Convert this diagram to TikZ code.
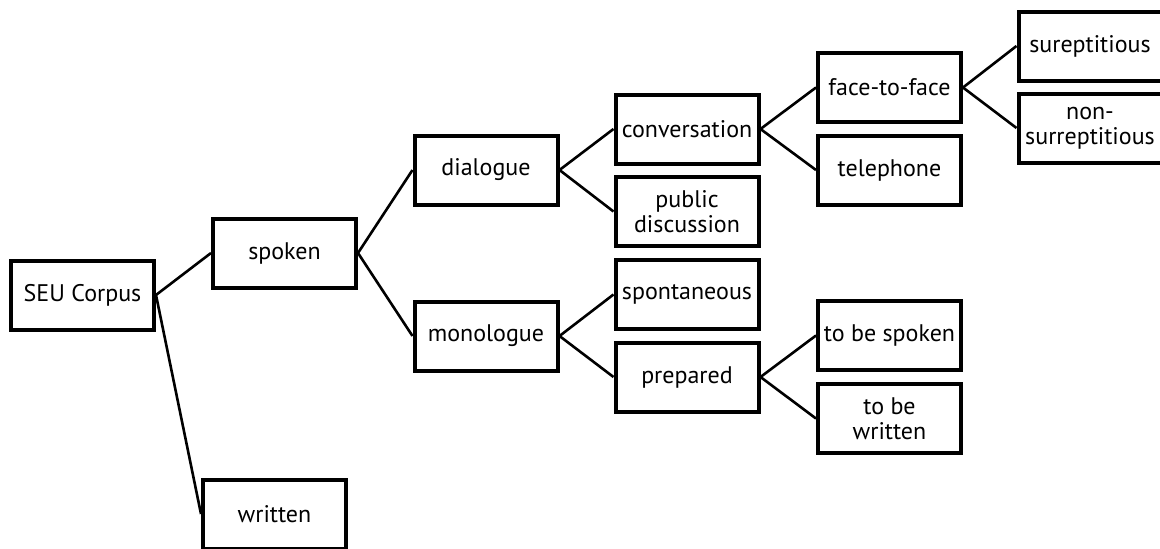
\documentclass[tikz,border=0pt]{standalone}
\usepackage{fontspec}
\setmainfont{PT Sans}
\begin{document}
\begin{tikzpicture}[x=1pt,y=-1pt,
  box/.style={draw=black, line width=4pt, fill=white, minimum width=143pt, minimum height=69pt,
    inner sep=0pt, align=center, font=\fontsize{24}{25}\selectfont},
  link/.style={draw=black, line width=2.6pt}]
\useasboundingbox (0,0) rectangle (1160,549);
\clip (0,0) rectangle (1160,549);
\node[box] (seu) at (82.5,295) {SEU Corpus};
\node[box] (spoken) at (284.5,253) {spoken};
\node[box] (written) at (274.5,514) {written};
\node[box] (dialogue) at (486,170) {dialogue};
\node[box] (monologue) at (486,336) {monologue};
\node[box] (conv) at (687,129) {conversation};
\node[box] (public) at (687,211.5) {public\\discussion};
\node[box] (spont) at (687,294.5) {spontaneous};
\node[box] (prep) at (687,377) {prepared};
\node[box] (f2f) at (889.5,87.5) {face-to-face};
\node[box] (tel) at (889.5,170) {telephone};
\node[box] (tbs) at (889.5,335.5) {to be spoken};
\node[box] (tbw) at (889.5,418.5) {to be\\written};
\node[box] (surep) at (1090,46) {sureptitious};
\node[box] (nonsur) at (1090,128) {non-\\surreptitious};
\draw[link] (seu.east) -- (spoken.west);
\draw[link] (seu.east) -- (written.west);
\draw[link] (spoken.east) -- (dialogue.west);
\draw[link] (spoken.east) -- (monologue.west);
\draw[link] (dialogue.east) -- (conv.west);
\draw[link] (dialogue.east) -- (public.west);
\draw[link] (monologue.east) -- (spont.west);
\draw[link] (monologue.east) -- (prep.west);
\draw[link] (conv.east) -- (f2f.west);
\draw[link] (conv.east) -- (tel.west);
\draw[link] (prep.east) -- (tbs.west);
\draw[link] (prep.east) -- (tbw.west);
\draw[link] (f2f.east) -- (surep.west);
\draw[link] (f2f.east) -- (nonsur.west);
\end{tikzpicture}
\end{document}
